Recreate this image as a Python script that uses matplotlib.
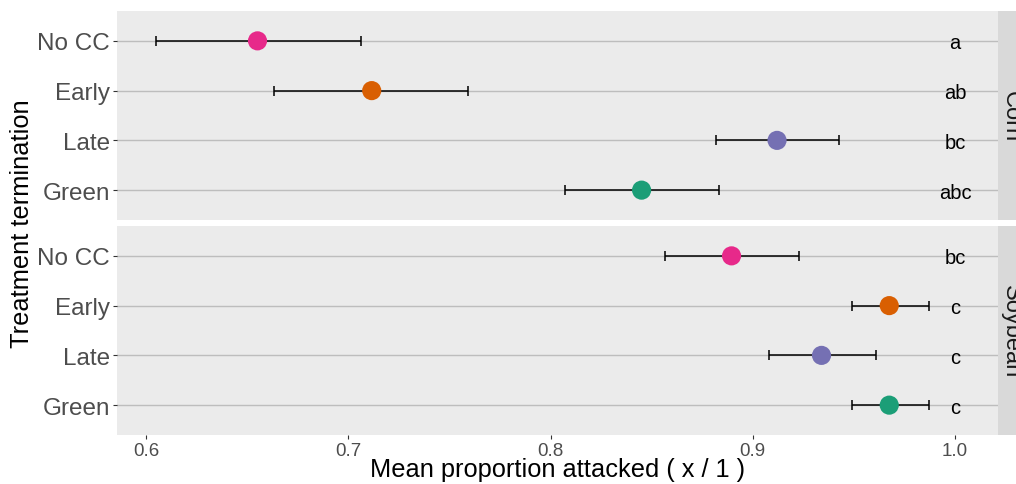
import matplotlib.pyplot as plt
import numpy as np

plt.rcParams["font.family"] = ["Liberation Sans", "DejaVu Sans"]

# treatment levels, top to bottom within each crop panel
treatments = ["No CC", "Early", "Late", "Green"]
colors = ["#E7298A", "#D95F02", "#7570B3", "#1B9E77"]

crops = ["Corn", "Soybean"]
means = {
    "Corn": [0.655, 0.7115, 0.912, 0.845],
    "Soybean": [0.8895, 0.9675, 0.934, 0.9675],
}
lower = {
    "Corn": [0.605, 0.663, 0.882, 0.807],
    "Soybean": [0.8565, 0.949, 0.908, 0.949],
}
upper = {
    "Corn": [0.706, 0.759, 0.9425, 0.8835],
    "Soybean": [0.923, 0.987, 0.961, 0.987],
}
letters = {
    "Corn": ["a", "ab", "bc", "abc"],
    "Soybean": ["bc", "c", "c", "c"],
}
letter_x = 1.0

W, H = 1016, 485
fig = plt.figure(figsize=(W / 100, H / 100), dpi=100)

panel_left, panel_right = 117, 998
panels_y = [(12, 221), (227, 436)]
strip_w = 26

for crop, (top, bot) in zip(crops, panels_y):
    ax = fig.add_axes([panel_left / W, 1 - bot / H,
                       (panel_right - panel_left) / W, (bot - top) / H])
    ax.set_facecolor("#EBEBEB")
    for s in ax.spines.values():
        s.set_visible(False)

    y = np.arange(len(treatments))
    m = np.array(means[crop])
    lo = np.array(lower[crop])
    hi = np.array(upper[crop])

    for yi in y:
        ax.axhline(yi, color="#BDBDBD", lw=1.0, zorder=1)

    ax.errorbar(m, y, xerr=[m - lo, hi - m], fmt="none", ecolor="black",
                elinewidth=1.1, capsize=3.6, capthick=1.1, zorder=2)
    ax.scatter(m, y, s=190, c=colors, edgecolors="none", zorder=3)

    for yi, lab in zip(y, letters[crop]):
        ax.text(letter_x, yi + 0.04, lab, ha="center", va="center",
                fontsize=14.5, color="black", zorder=4)

    ax.set_xlim(0.5855, 1.0213)
    ax.set_ylim(len(treatments) - 0.4, -0.6)
    ax.set_yticks(y)
    ax.set_yticklabels(treatments, fontsize=17.5, color="#4D4D4D")
    ax.tick_params(axis="both", length=3, width=0.8, color="#333333", pad=2)
    ax.set_xticks([0.6, 0.7, 0.8, 0.9, 1.0])
    if crop == crops[-1]:
        ax.set_xticklabels(["0.6", "0.7", "0.8", "0.9", "1.0"],
                           fontsize=13.5, color="#4D4D4D")
    else:
        ax.tick_params(axis="x", length=0, labelbottom=False)

    # facet strip on the right
    sax = fig.add_axes([panel_right / W, 1 - bot / H, strip_w / W, (bot - top) / H])
    sax.set_facecolor("#D9D9D9")
    sax.set_xticks([])
    sax.set_yticks([])
    for s in sax.spines.values():
        s.set_visible(False)
    sax.text(0.5, 0.5, crop, rotation=-90, ha="center", va="center",
             fontsize=17, color="#1A1A1A", transform=sax.transAxes)

fig.text((panel_left + panel_right) / 2 / W, 1 - 470 / H,
         "Mean proportion attacked ( x / 1 )", ha="center", va="center",
         fontsize=18.3, color="black")
fig.text(22 / W, 1 - 224 / H, "Treatment termination", rotation=90,
         ha="center", va="center", fontsize=18.3, color="black")

fig.savefig("out.png", dpi=100)
